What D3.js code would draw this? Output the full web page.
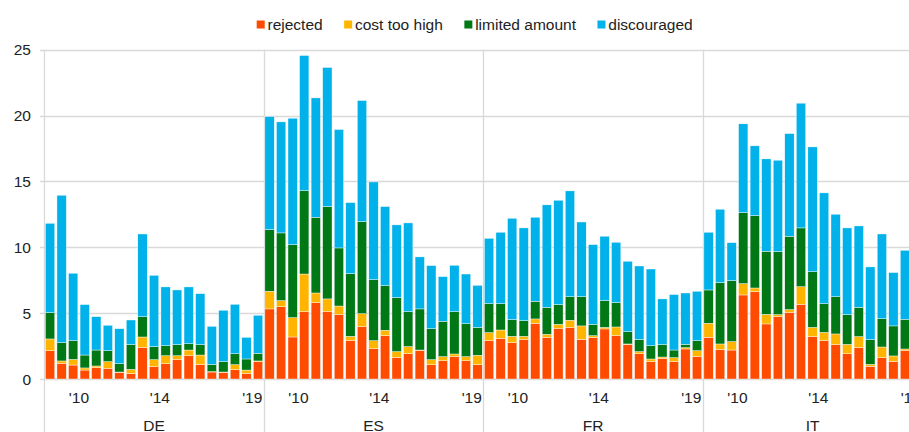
<!DOCTYPE html>
<html>
<head>
<meta charset="utf-8">
<script src="https://cdn.jsdelivr.net/npm/d3@7"></script>
<style>
  body { margin: 0; background: #fff; }
  svg { display: block; font-family: "Liberation Sans", Arial, sans-serif; }
</style>
</head>
<body>
<svg id="chart" width="909" height="432"></svg>
<script>
// countries and survey waves
var countries = ["DE", "ES", "FR", "IT"];
var waves = ["w01","w02","w03","w04","w05","w06","w07","w08","w09","w10",
             "w11","w12","w13","w14","w15","w16","w17","w18","w19"];

// year labels sit between a wave and the next one
var yearLabels = ["'10", "'14", "'19"];
var yearAfterWave = ["w03", "w10", "w18"];

var yTicks = [0, 5, 10, 15, 20, 25];

var seriesNames = ["rejected", "cost too high", "limited amount", "discouraged"];
var seriesColors = ["#ff4b00", "#ffb400", "#007816", "#00b1ea"];

// percentages
var rejected = {
  DE: [2.15,1.19,1.06,0.68,0.86,0.81,0.51,0.41,2.38,0.94,1.16,1.49,1.77,1.09,0.53,0.51,0.71,0.41,1.32],
  ES: [5.32,5.49,3.19,5.11,5.80,5.11,4.91,2.91,3.97,2.30,3.29,1.62,1.92,2.18,1.09,1.39,1.70,1.39,1.09],
  FR: [2.91,3.09,2.76,2.99,4.23,3.14,3.85,3.90,3.01,3.14,3.80,3.29,2.63,1.92,1.32,1.57,1.32,2.28,1.70],
  IT: [3.16,2.25,2.20,6.38,6.63,4.18,4.73,5.06,5.67,3.22,2.91,2.61,1.92,2.38,0.96,1.62,1.32,2.18,2.00]
};
var costTooHigh = {
  DE: [0.89,0.18,0.43,0.16,0.13,0.51,0.02,0.32,0.81,0.53,0.61,0.28,0.43,0.73,0.03,0.02,0.38,0.27,0.05],
  ES: [1.34,0.46,1.47,2.86,0.73,0.97,0.63,0.33,0.99,0.61,0.41,0.46,0.54,0.02,0.38,0.31,0.20,0.31,0.71],
  FR: [0.61,0.63,0.48,0.25,0.33,0.25,0.30,0.56,1.02,0.15,0.12,0.66,0.03,0.16,0.20,0.10,0.30,0.10,0.45],
  IT: [1.07,0.41,0.64,0.86,0.28,0.73,0.16,0.21,1.34,0.70,0.63,0.81,0.71,0.84,0.15,0.81,0.43,0.10,0.40]
};
var limitedAmount = {
  DE: [2.00,1.39,1.42,0.98,1.21,0.83,0.63,1.88,1.54,0.99,0.76,0.84,0.48,0.79,0.55,0.79,0.83,0.84,0.58],
  ES: [4.68,5.14,5.54,6.33,5.75,7.01,4.41,4.76,6.99,4.63,3.39,4.10,2.65,3.12,2.35,2.68,3.21,2.50,2.12],
  FR: [2.20,2.00,1.27,1.19,1.34,2.05,1.50,1.79,2.22,0.86,2.03,1.85,0.93,0.93,1.01,0.94,0.58,0.25,0.76],
  IT: [2.53,4.66,4.63,5.39,5.50,4.79,4.78,5.57,4.46,4.23,2.18,2.83,2.26,2.22,1.88,2.15,2.28,2.25,2.50]
};
var discouraged = {
  DE: [6.78,11.19,5.12,3.83,2.53,1.93,2.66,1.87,6.28,5.41,4.46,4.15,4.31,3.87,2.89,3.90,3.75,1.64,2.89],
  ES: [8.58,8.43,9.60,10.26,9.06,10.56,8.99,5.39,9.19,7.42,6.00,5.52,6.74,3.95,4.79,3.39,3.52,3.77,3.19],
  FR: [4.96,5.42,7.69,7.04,6.38,7.78,7.92,8.03,5.67,6.05,4.89,4.58,5.35,5.57,5.82,3.47,4.21,3.90,3.75],
  IT: [4.38,5.57,2.88,6.74,5.29,7.01,6.94,7.79,9.47,9.47,8.41,6.26,6.58,6.18,5.52,6.43,4.05,5.24,4.50]
};

var seriesData = [rejected, costTooHigh, limitedAmount, discouraged];

var rows = [];
countries.forEach(function(c) {
  waves.forEach(function(w, i) {
    var r = { country: c, wave: w };
    seriesNames.forEach(function(s, k) { r[s] = seriesData[k][c][i]; });
    rows.push(r);
  });
});

var svg = d3.select("#chart");
var gridColor = "#d9d9d9";

// the plot runs past the right edge of the window, like the original
var x0 = d3.scaleBand().domain(countries).range([44.3, 922.3]);
var x1 = d3.scaleBand().domain(waves).range([0, x0.bandwidth()])
  .paddingInner(0.19).paddingOuter(0.095);
var y = d3.scaleLinear().domain([0, 25]).range([379, 49.7]);

// gridlines + small ticks on the left
svg.append("g").selectAll("line").data(yTicks).enter().append("line")
  .attr("x1", 40).attr("x2", 909)
  .attr("y1", function(d) { return Math.round(y(d)) + 0.5; })
  .attr("y2", function(d) { return Math.round(y(d)) + 0.5; })
  .attr("stroke", gridColor).attr("stroke-width", 1.3);

svg.append("g").selectAll("text").data(yTicks).enter().append("text")
  .attr("x", 31).attr("y", function(d) { return y(d); })
  .attr("dy", "0.36em")
  .attr("text-anchor", "end")
  .style("font-size", "15.5px").attr("fill", "#222")
  .text(function(d) { return d; });

// vertical separators between countries
var seps = countries.map(function(c) { return x0(c); }).concat([x0.range()[1]]);
svg.append("g").selectAll("line").data(seps).enter().append("line")
  .attr("x1", function(d) { return Math.round(d) + 0.5; })
  .attr("x2", function(d) { return Math.round(d) + 0.5; })
  .attr("y1", y(25)).attr("y2", 432)
  .attr("stroke", gridColor).attr("stroke-width", 1.3);

// stacked bars
var stack = d3.stack().keys(seriesNames);
var layers = stack(rows);

svg.append("g").selectAll("g").data(layers).enter().append("g")
  .attr("fill", function(d, i) { return seriesColors[i]; })
  .selectAll("rect").data(function(d) { return d; }).enter().append("rect")
  .attr("x", function(d) { return x0(d.data.country) + x1(d.data.wave); })
  .attr("width", x1.bandwidth())
  .attr("y", function(d) { return y(d[1]); })
  .attr("height", function(d) { return y(d[0]) - y(d[1]); })
  .attr("stroke", "#fff").attr("stroke-width", 0.4);

// year labels
countries.forEach(function(c) {
  svg.append("g").selectAll("text").data(yearLabels).enter().append("text")
    .attr("x", function(d, i) {
      return x0(c) + x1(yearAfterWave[i]) + x1.bandwidth() / 2 + x1.step() / 2;
    })
    .attr("y", 403)
    .attr("text-anchor", "middle")
    .style("font-size", "15.5px").attr("fill", "#222")
    .text(function(d) { return d; });
});

// country labels
svg.append("g").selectAll("text").data(countries).enter().append("text")
  .attr("x", function(d) { return x0(d) + x0.bandwidth() / 2; })
  .attr("y", 431)
  .attr("text-anchor", "middle")
  .style("font-size", "15.5px").attr("fill", "#222")
  .text(function(d) { return d; });

// legend
var legend = svg.append("g").attr("transform", "translate(256.7,0)");
var lx = 0;
seriesNames.forEach(function(name, i) {
  var item = legend.append("g").attr("transform", "translate(" + lx + ",0)");
  item.append("rect").attr("x", 0).attr("y", 20.5).attr("width", 8).attr("height", 8)
    .attr("fill", seriesColors[i]);
  var t = item.append("text").attr("x", 10.8).attr("y", 29.5)
    .style("font-size", "15.5px").attr("fill", "#222")
    .text(name);
  lx += 10.8 + t.node().getComputedTextLength() + 21.5;
});
</script>
</body>
</html>
